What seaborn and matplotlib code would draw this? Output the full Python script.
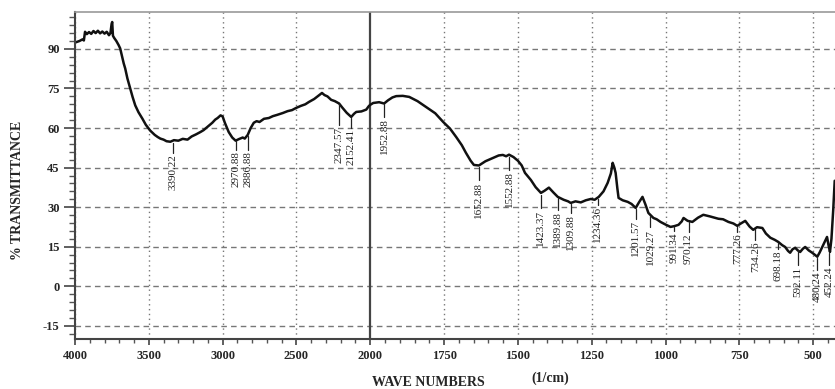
import numpy as np
import pandas as pd
import matplotlib
matplotlib.use('Agg')
import matplotlib.pyplot as plt
import seaborn as sns
from matplotlib.ticker import FixedLocator

# Spectrum (wavenumber in 1/cm, % transmittance)
wavenumber = [3995, 3970, 3950, 3940, 3932, 3920, 3905, 3890, 3875, 3860, 3845, 3830,
              3815, 3800, 3785, 3770, 3760, 3752, 3748, 3743, 3735, 3720, 3705, 3694,
              3680, 3670, 3660, 3645, 3626, 3610, 3592, 3570, 3544, 3520, 3490, 3460,
              3440, 3422, 3400, 3380, 3354, 3330, 3300, 3270, 3238, 3210, 3180, 3150,
              3129, 3100, 3070, 3050, 3034, 3014, 3000, 2985, 2959, 2935, 2912, 2890,
              2864, 2850, 2830, 2810, 2789, 2770, 2750, 2720, 2687, 2660, 2630, 2592,
              2560, 2530, 2503, 2470, 2440, 2415, 2380, 2350, 2327, 2310, 2290, 2265,
              2240, 2211, 2190, 2160, 2129, 2110, 2095, 2060, 2027, 2010, 2000, 1990,
              1970, 1953, 1940, 1925, 1912, 1890, 1868, 1840, 1811, 1780, 1753, 1730,
              1709, 1690, 1676, 1660, 1649, 1632, 1610, 1585, 1565, 1551, 1540, 1530,
              1515, 1500, 1487, 1476, 1456, 1440, 1422, 1410, 1395, 1380, 1365, 1345,
              1330, 1321, 1305, 1287, 1270, 1253, 1240, 1226, 1210, 1196, 1185, 1179,
              1174, 1169, 1163, 1159, 1145, 1128, 1115, 1101, 1090, 1078, 1068, 1058,
              1041, 1030, 1017, 1000, 983, 970, 956, 945, 939, 925, 909, 890, 872, 850,
              821, 805, 787, 770, 757, 745, 730, 715, 703, 690, 672, 660, 645, 630, 618,
              605, 595, 585, 578, 570, 561, 552, 544, 535, 527, 515, 503, 495, 486, 478,
              469, 460, 453, 448, 443, 438, 432, 427]
transmittance = [92.5, 93.0, 93.6, 93.2, 96.5, 95.6, 96.4, 95.7, 96.8, 96.0, 96.9, 95.9,
                 96.6, 95.8, 96.5, 95.2, 96.0, 99.5, 100.2, 95.0, 94.2, 93.0, 91.5, 90.2,
                 86.8, 84.5, 82.6, 78.8, 75.0, 71.8, 68.6, 66.0, 63.6, 61.2, 59.0, 57.4,
                 56.6, 56.0, 55.6, 55.0, 54.8, 55.4, 55.2, 55.9, 55.6, 56.8, 57.6, 58.5,
                 59.2, 60.6, 62.0, 63.2, 63.8, 64.8, 64.4, 62.0, 58.5, 56.4, 55.2, 55.8,
                 56.4, 56.0, 57.4, 60.0, 62.0, 62.6, 62.3, 63.5, 63.8, 64.5, 65.0, 65.7,
                 66.4, 66.8, 67.6, 68.4, 69.0, 69.9, 71.0, 72.3, 73.3, 72.5, 72.0, 70.7,
                 70.2, 69.3, 67.8, 65.8, 64.2, 65.4, 66.1, 66.3, 67.0, 68.3, 68.8, 69.5,
                 69.8, 69.3, 70.5, 71.6, 72.1, 72.2, 71.8, 70.2, 68.0, 65.6, 62.3, 59.8,
                 56.6, 53.5, 50.6, 47.6, 46.0, 45.8, 47.4, 48.6, 49.6, 49.8, 49.3, 49.9,
                 49.0, 47.6, 45.8, 43.0, 40.3, 37.6, 35.4, 36.2, 37.4, 35.6, 33.9, 32.8,
                 32.2, 31.6, 32.2, 31.8, 32.6, 33.1, 32.8, 33.9, 36.0, 39.2, 42.8, 46.8,
                 45.2, 43.0, 37.0, 33.5, 32.6, 32.0, 31.2, 29.7, 31.8, 33.9, 31.0, 27.8,
                 25.9, 25.4, 24.4, 23.4, 22.5, 22.8, 23.3, 24.6, 25.9, 24.8, 24.4, 26.0, 27.1, 26.5,
                 25.6, 25.4, 24.4, 23.8, 22.9, 23.8, 24.8, 22.6, 21.4, 22.4, 22.1, 20.0, 18.4, 17.6, 16.8,
                 15.6, 14.9, 13.4, 12.7, 14.0, 14.6, 13.6, 13.0, 14.2, 14.9, 13.6, 12.7, 12.0, 11.2, 12.8,
                 14.9, 17.0, 18.7, 15.6, 13.0, 18.0, 29.0, 40.0]

# Peak markers: position on the axis, printed label, marker line top / bottom (% T)
peak_pos = [3333, 2912, 2830, 2211, 2129, 1953, 1632, 1530, 1422, 1365, 1321,
            1230, 1101, 1051, 970, 922, 757, 696, 618, 551, 487, 445]
peak_text = ['3390.22', '2970.88', '2886.88', '2347.57', '2152.41', '1952.88',
             '1652.88', '1552.88', '1423.37', '1389.88', '1309.88', '1234.36',
             '1201.57', '1029.27', '991.34', '970.12', '777.26', '734.26',
             '698.18', '592.11', '480.24', '452.24']
peak_top = [54.4, 55.0, 56.8, 69.0, 63.8, 69.0, 45.3, 49.1, 34.6, 33.4, 31.2,
            33.0, 29.3, 26.5, 22.4, 24.5, 22.5, 21.8, 16.4, 13.6, 10.8, 12.5]
peak_bottom = [50.6, 51.7, 51.7, 61.2, 60.1, 64.2, 40.3, 44.1, 29.7, 29.0, 27.8,
               30.9, 25.6, 22.5, 21.0, 20.6, 20.6, 17.6, 14.2, 8.1, 6.2, 8.1]

x_major = [4000, 3500, 3000, 2500, 2000, 1750, 1500, 1250, 1000, 750, 500]
y_major = [-15, 0, 15, 30, 45, 60, 75, 90]

sns.set_style('ticks')
plt.rcParams['font.family'] = ['Liberation Serif', 'DejaVu Serif']
plt.rcParams['axes.unicode_minus'] = False


# scale changes at 2000 1/cm: 500 per division above, 250 per division below
def fwd(x):
    x = np.asarray(x, dtype=float)
    return np.where(x >= 2000, x / 500.0, 4 + (x - 2000) / 250.0)


def inv(u):
    u = np.asarray(u, dtype=float)
    return np.where(u >= 4, u * 500.0, 2000 + (u - 4) * 250.0)


fig = plt.figure(figsize=(8.35, 3.89), dpi=100)
ax = fig.add_axes([75 / 835, 1 - 339 / 389, 760 / 835, 327 / 389])
ax.set_xscale('function', functions=(fwd, inv))

df = pd.DataFrame({'wn': wavenumber, 'T': transmittance})
sns.lineplot(data=df, x='wn', y='T', ax=ax, color='#111111', linewidth=1.8,
             sort=False, estimator=None)

ax.set_xlim(4000, 426)
ax.set_ylim(-20, 104)

# grid
for yv in y_major:
    ax.axhline(yv, color='#777777', lw=1.0, ls=(0, (4, 3)), zorder=0)
for xv in x_major:
    if xv == 2000:
        ax.axvline(xv, color='#444444', lw=1.6, zorder=0)
    else:
        ax.axvline(xv, color='#777777', lw=1.0, ls=(0, (1, 2.5)), zorder=0)

# peak markers
for pos, txt, top, bot in zip(peak_pos, peak_text, peak_top, peak_bottom):
    ax.plot([pos, pos], [top, bot], color='#222222', lw=0.9)
    ax.text(pos, bot - 0.6, txt, rotation=90, ha='center', va='top',
            fontsize=8, color='#222222')

ax.xaxis.set_major_locator(FixedLocator(x_major))
x_minor = [v for v in range(3900, 2000, -100) if v not in x_major] + \
          [v for v in range(1950, 420, -50) if v not in x_major]
ax.xaxis.set_minor_locator(FixedLocator(x_minor))
ax.set_xticklabels([str(v) for v in x_major])
ax.yaxis.set_major_locator(FixedLocator(y_major))
ax.yaxis.set_minor_locator(FixedLocator([v for v in range(-18, 104, 3) if v not in y_major]))

ax.tick_params(axis='y', which='major', length=8, width=1.2, color='#444444',
               labelsize=9, pad=3)
ax.tick_params(axis='y', which='minor', length=4, width=1.0, color='#555555')
ax.tick_params(axis='x', which='major', length=4, width=1.2, color='#444444',
               labelsize=9, pad=4)
ax.tick_params(axis='x', which='minor', length=3, width=1.0, color='#555555')
for lab in ax.get_xticklabels() + ax.get_yticklabels():
    lab.set_fontweight('bold')

ax.spines['right'].set_visible(False)
ax.spines['left'].set_color('#444444')
ax.spines['left'].set_linewidth(1.5)
ax.spines['bottom'].set_color('#444444')
ax.spines['bottom'].set_linewidth(1.5)
ax.spines['top'].set_color('#999999')
ax.spines['top'].set_linewidth(1.2)

ax.set_xlabel('')
ax.set_ylabel('')
fig.text(18 / 835, 1 - 190 / 389, '% TRANSMITTANCE', rotation=90, ha='center',
         va='center', fontsize=10, fontweight='bold')
fig.text(428 / 835, 1 - 383 / 389, 'WAVE NUMBERS', ha='center', va='center',
         fontsize=10, fontweight='bold')
fig.text(550 / 835, 1 - 378 / 389, '(1/cm)', ha='center', va='center',
         fontsize=10, fontweight='bold')

fig.savefig('out.png', dpi=100)
